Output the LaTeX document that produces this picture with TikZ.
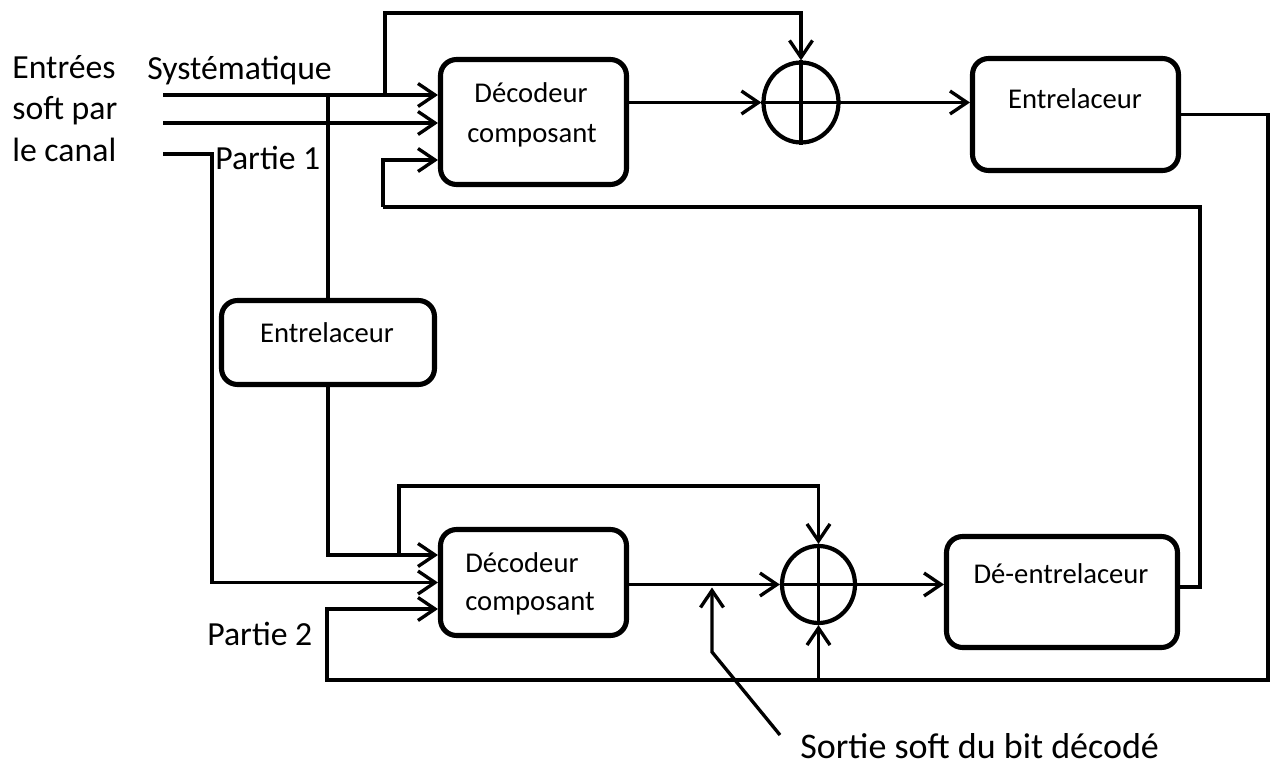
\documentclass[tikz,border=0pt]{standalone}
\usepackage{fontspec}
\setmainfont{Carlito}
\usetikzlibrary{arrows.meta,shapes.geometric}
\begin{document}
\begin{tikzpicture}[x=0.02cm,y=-0.02cm,
  wire/.style={line width=1.9pt},
  arr/.style={wire,-{Straight Barb[length=0.34cm,width=0.46cm,line width=1.9pt]}},
  block/.style={draw,line width=2.9pt,rounded corners=0.32cm,fill=white,inner sep=0pt},
  summer/.style={draw,ellipse,line width=2.4pt,inner sep=0pt,minimum width=1.5cm,minimum height=1.6cm},
  lbl/.style={font=\fontsize{19.2}{22}\selectfont,inner sep=0pt,anchor=base west},
  btxt/.style={font=\fontsize{16.3}{19}\selectfont,inner sep=0pt,anchor=base},
]
\useasboundingbox[fill=white] (0,0) rectangle (1276,767);

% channel inputs and labels
\node[lbl] (lentrees) at (12,79) {Entrées};
\node[lbl] (lsoft) at (12,120) {soft par};
\node[lbl] (lcanal) at (12,162) {le canal};
\node[lbl] (lsys) at (147,80) {Systématique};
\node[lbl] (lp1) at (215,170) {Partie 1};
\node[lbl] (lp2) at (207,645) {Partie 2};
\node[lbl,font=\fontsize{20.5}{24}\selectfont] (lsortie) at (800,758) {Sortie soft du bit décodé};

\coordinate (sysin) at (163,95);
\coordinate (parin) at (163,123);
\coordinate (p1in) at (163,154);
\coordinate (p1turn) at (212,154);
\coordinate (top1) at (385,13);
\coordinate (top2) at (399,486);
\coordinate (fb1) at (1200,207);
\coordinate (fb1in) at (383,160);
\coordinate (lowR) at (1268,680);
\coordinate (p2in) at (327,609);
\coordinate (sortieA) at (712,652);
\coordinate (sortieB) at (780,735);

% blocks
\node[block,minimum width=3.72cm,minimum height=2.5cm] (dec1) at (533.5,122) {};
\node[block,minimum width=3.72cm,minimum height=2.12cm] (dec2) at (533.5,582.5) {};
\node[block,minimum width=4.12cm,minimum height=2.24cm] (ent1) at (1075.5,114.5) {};
\node[block,minimum width=4.26cm,minimum height=1.68cm] (mid) at (328,342.5) {};
\node[block,minimum width=4.62cm,minimum height=2.22cm] (deint) at (1062,592) {};

\node[btxt] (t1a) at (531,103) {Décodeur};
\node[btxt] (t1b) at (532,143) {composant};
\node[btxt,anchor=base west] (t2a) at (465,572) {Décodeur};
\node[btxt,anchor=base west] (t2b) at (465,610) {composant};
\node[btxt] (t3) at (1075,109) {Entrelaceur};
\node[btxt] (t4) at (327,342) {Entrelaceur};
\node[btxt] (t5) at (1061,583) {Dé-entrelaceur};

% adders
\node[summer] (s1) at (801,102.5) {};
\node[summer,minimum width=1.46cm,minimum height=1.54cm] (s2) at (818.5,584.5) {};
\draw[wire] (s1.north) -- (s1.south) (s1.west) -- (s1.east);
\draw[wire] (s2.north) -- (s2.south) (s2.west) -- (s2.east);

\coordinate (in1a) at (sysin -| dec1.west);
\coordinate (in2a) at ([yshift=0.55cm]dec2.west);
\coordinate (out5) at ([yshift=0.1cm]deint.east);

% first decoder inputs
\draw[arr] (sysin) -- (in1a);
\draw[arr] (parin) -- (parin -| dec1.west);
\draw[arr] (fb1in |- fb1) -- (fb1in) -- (fb1in -| dec1.west);
\draw[arr] (top1 |- sysin) -- (top1) -| (s1.north);
\draw[wire] (mid.north |- sysin) -- (mid.north);

% first decoder output chain
\draw[arr] (dec1.east |- s1.west) -- (s1.west);
\draw[arr] (s1.east) -- (s1.east -| ent1.west);
\draw[arr] (ent1.east) -| (lowR) -| (p2in) -- (p2in -| dec2.west);

% second decoder inputs
\draw[arr] (p1in) -- (p1turn) |- (dec2.west);
\draw[arr] (mid.south) |- (in2a);
\draw[arr] (top2 |- in2a) -- (top2) -| (s2.north);

% second decoder output chain
\draw[arr] (dec2.east |- s2.west) -- (s2.west);
\draw[arr] (s2.east) -- (s2.east -| deint.west);
\draw[arr] (lowR -| s2.south) -- (s2.south);
\draw[wire] (out5) -| (fb1) -- (fb1in |- fb1);

% soft output pointer
\draw[arr] (sortieB) -- (sortieA) -- ([yshift=-0.06cm]sortieA |- s2.west);
\end{tikzpicture}
\end{document}
